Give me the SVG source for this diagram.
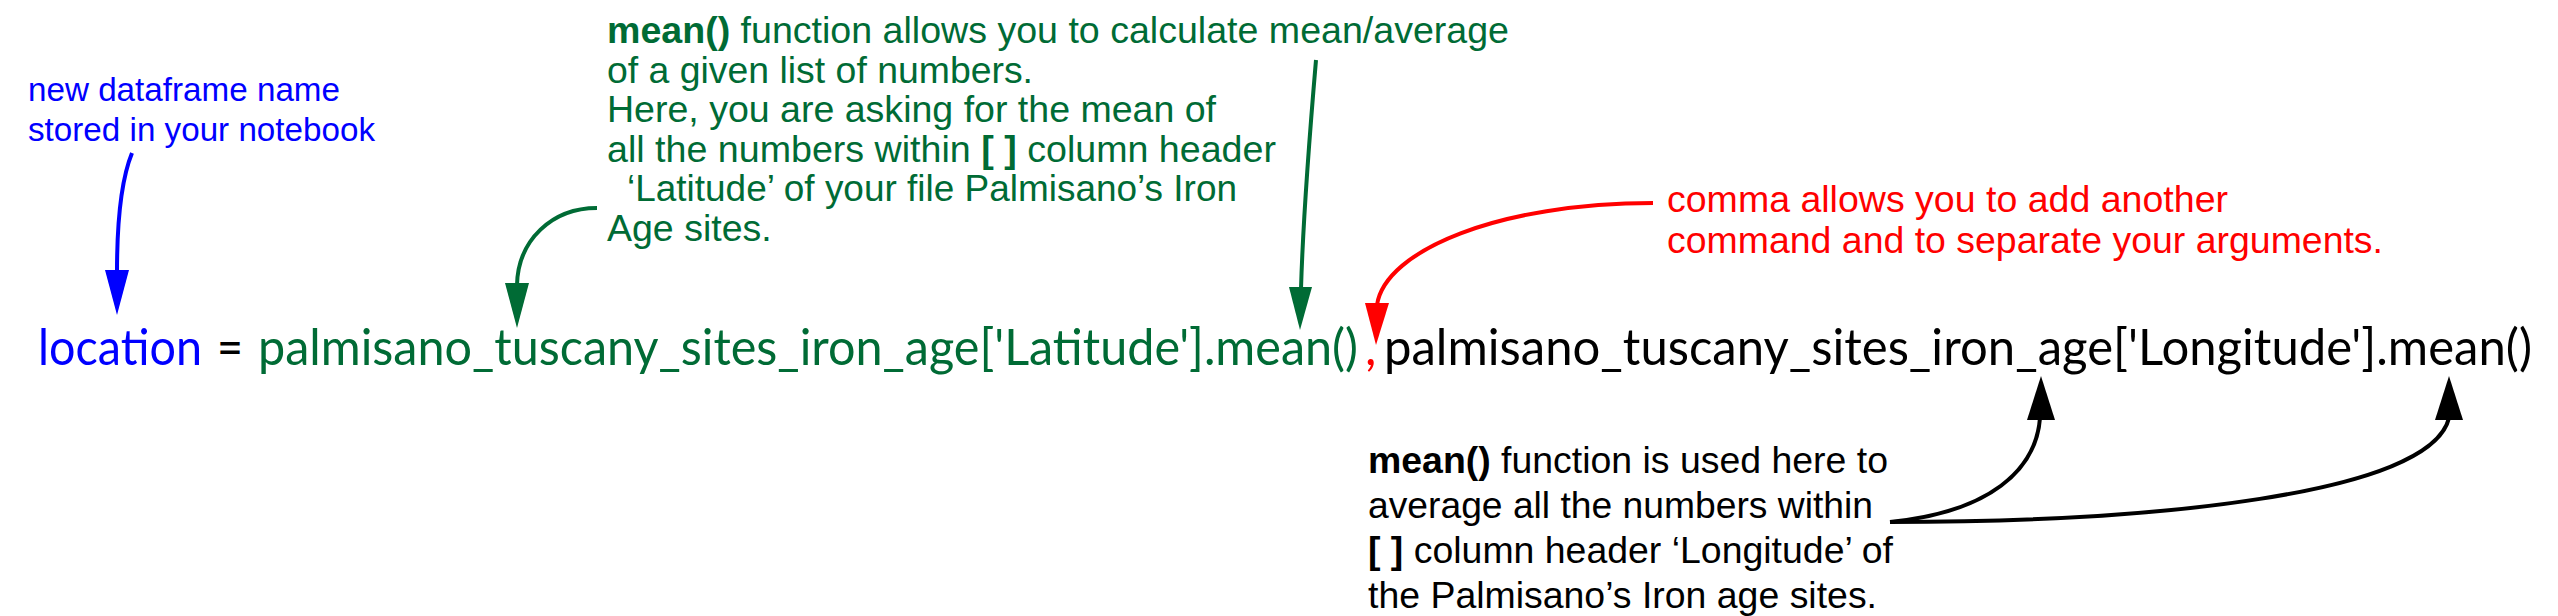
<svg xmlns="http://www.w3.org/2000/svg" width="2558" height="616" viewBox="0 0 2558 616">
<style>
.code{font-family:Lato,"Open Sans","Liberation Sans",sans-serif;font-size:50px}
.ann{font-family:"Liberation Sans",Arial,sans-serif;font-size:37.5px}
.small{font-size:33px}
.b{font-weight:bold}
.blue{fill:#0000ff}.green{fill:#006b35}.red{fill:#ff0000}.black{fill:#000}
.cb{fill:none;stroke:#0000ff;stroke-width:4}
.cg{fill:none;stroke:#006b35;stroke-width:4}
.cr{fill:none;stroke:#ff0000;stroke-width:4}
.ck{fill:none;stroke:#000;stroke-width:4}
</style>
<rect width="2558" height="616" fill="#fff"/>
<g id="code-line">
<text class="code blue" x="38" y="365" textLength="164" lengthAdjust="spacingAndGlyphs">location</text>
<text class="code black" x="217" y="365" textLength="26" lengthAdjust="spacingAndGlyphs">=</text>
<text class="code green" x="258" y="365" textLength="1100" lengthAdjust="spacingAndGlyphs">palmisano_tuscany_sites_iron_age['Latitude'].mean()</text>
<text class="code red" x="1365" y="365">,</text>
<text class="code black" x="1384" y="365" textLength="1148" lengthAdjust="spacingAndGlyphs">palmisano_tuscany_sites_iron_age['Longitude'].mean()</text>
</g>
<g id="note-dataframe" class="ann small blue">
<text x="28" y="101" textLength="312" lengthAdjust="spacingAndGlyphs">new dataframe name</text>
<text x="28" y="141" textLength="347" lengthAdjust="spacingAndGlyphs">stored in your notebook</text>
</g>
<g id="note-mean-latitude" class="ann green">
<text x="607" y="43" textLength="902" lengthAdjust="spacingAndGlyphs"><tspan class="b">mean()</tspan> function allows you to calculate mean/average</text>
<text x="607" y="83" textLength="426" lengthAdjust="spacingAndGlyphs">of a given list of numbers.</text>
<text x="607" y="122" textLength="609" lengthAdjust="spacingAndGlyphs">Here, you are asking for the mean of</text>
<text x="607" y="162" textLength="669" lengthAdjust="spacingAndGlyphs">all the numbers within <tspan class="b">[ ]</tspan> column header</text>
<text x="627" y="201" textLength="610" lengthAdjust="spacingAndGlyphs">‘Latitude’ of your file Palmisano’s Iron</text>
<text x="607" y="241">Age sites.</text>
</g>
<g id="note-comma" class="ann red">
<text x="1667" y="212" textLength="561" lengthAdjust="spacingAndGlyphs">comma allows you to add another</text>
<text x="1667" y="253" textLength="716" lengthAdjust="spacingAndGlyphs">command and to separate your arguments.</text>
</g>
<g id="note-mean-longitude" class="ann black">
<text x="1368" y="473" textLength="520" lengthAdjust="spacingAndGlyphs"><tspan class="b">mean()</tspan> function is used here to</text>
<text x="1368" y="518" textLength="505" lengthAdjust="spacingAndGlyphs">average all the numbers within</text>
<text x="1368" y="563" textLength="525" lengthAdjust="spacingAndGlyphs"><tspan class="b">[ ]</tspan> column header ‘Longitude’ of</text>
<text x="1368" y="608" textLength="509" lengthAdjust="spacingAndGlyphs">the Palmisano’s Iron age sites.</text>
</g>
<g id="connectors">
<path class="cb" d="M132,153 C121,180 117,225 117,272"/>
<polygon fill="#0000ff" points="105,270 129,270 117,315"/>
<path class="cg" d="M597,208 C552,208 518,240 517,285"/>
<polygon fill="#006b35" points="505,283 529,283 517,328"/>
<path class="cg" stroke-width="3" d="M1316,60 C1310,130 1303,220 1301,289"/>
<polygon fill="#006b35" points="1289,287 1312,287 1300,330"/>
<path class="cr" d="M1653,203 C1500,203 1385,250 1377,305"/>
<polygon fill="#ff0000" points="1365,303 1389,303 1376,345"/>
<path class="ck" d="M1890,522 C1990,512 2036,470 2040,418"/>
<polygon fill="#000" points="2027,420 2055,420 2041,376"/>
<path class="ck" d="M1890,522 C2150,522 2430,495 2449,418"/>
<polygon fill="#000" points="2435,420 2463,420 2449,376"/>
</g>
</svg>
